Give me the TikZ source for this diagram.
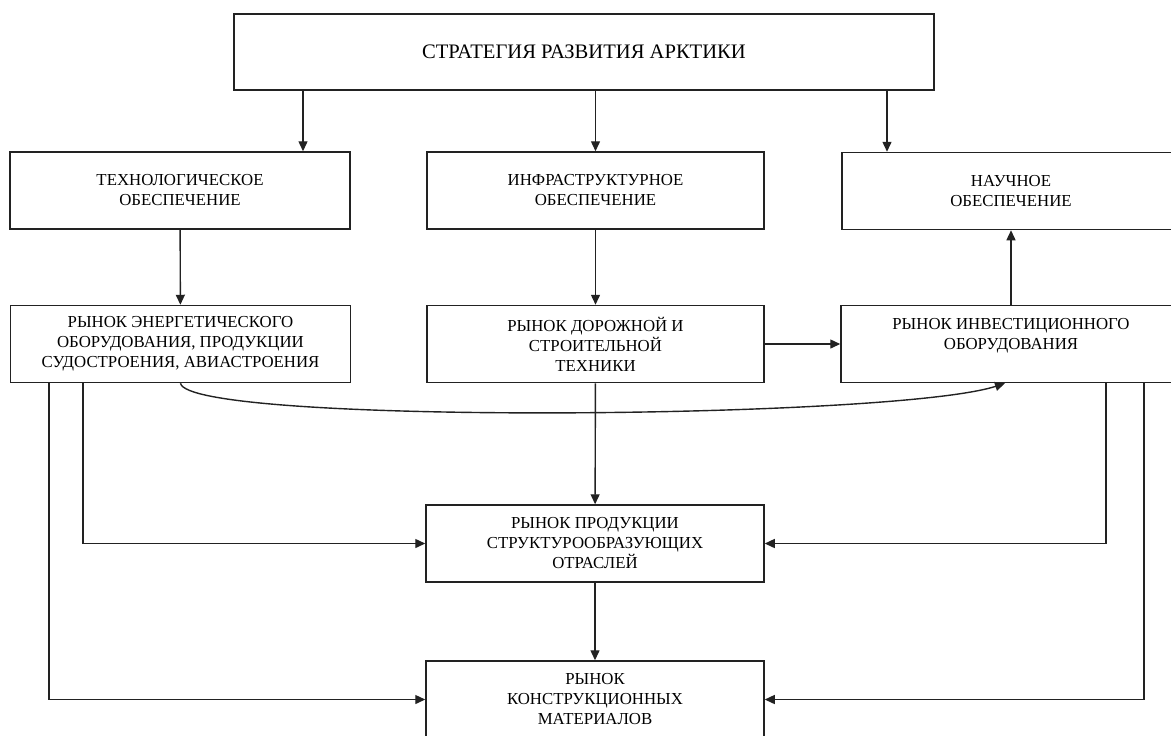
\documentclass[tikz,border=0pt]{standalone}
\usepackage{fontspec}
\setmainfont{Liberation Serif}
\usepackage{tikz}
\usetikzlibrary{arrows.meta,positioning,calc}
\definecolor{bk90}{HTML}{222222}
\tikzset{
  mktbox/.style={
    rectangle, draw=bk90, line width=0.75pt,
    minimum width=#1, minimum height=38.5pt,
    font=\fontsize{8.4}{10}\selectfont, align=center,
    inner sep=2pt
  },
  mktbox/.default=169pt,
  flowarrow/.style={
    -{Triangle[length=5pt,width=4.5pt]}, line width=0.7pt, color=bk90
  },
}

\begin{document}
\begin{tikzpicture}[x=0.5pt, y=-0.5pt]
  \useasboundingbox (0,0) rectangle (1171,735);
  % top level
  \node[mktbox=350pt, minimum height=38pt, font=\fontsize{10.3}{12}\selectfont] (strategy) at (584,52) {СТРАТЕГИЯ РАЗВИТИЯ АРКТИКИ};
  % support boxes
  \node[mktbox=170pt] (techSup) at (180,190.5) {ТЕХНОЛОГИЧЕСКОЕ\\ОБЕСПЕЧЕНИЕ};
  \node[mktbox=168.5pt] (infraSup) at (595.5,190.5) {ИНФРАСТРУКТУРНОЕ\\ОБЕСПЕЧЕНИЕ};
  \node[mktbox=169pt] (sciSup) at (1011,191) {НАУЧНОЕ\\ОБЕСПЕЧЕНИЕ};
  % markets
  \node[mktbox=170pt] (mktEnergy) at (180.5,344) {РЫНОК ЭНЕРГЕТИЧЕСКОГО\\ОБОРУДОВАНИЯ, ПРОДУКЦИИ\\СУДОСТРОЕНИЯ, АВИАСТРОЕНИЯ};
  \node[mktbox=168.5pt] (mktRoad) at (595.5,344) {РЫНОК ДОРОЖНОЙ И\\СТРОИТЕЛЬНОЙ\\ТЕХНИКИ};
  \node[mktbox=170pt] (mktInvest) at (1011,344) {РЫНОК ИНВЕСТИЦИОННОГО\\ОБОРУДОВАНИЯ\\\mbox{}};
  \node[mktbox=169pt] (mktProd) at (595,543.5) {РЫНОК ПРОДУКЦИИ\\СТРУКТУРООБРАЗУЮЩИХ\\ОТРАСЛЕЙ};
  \node[mktbox=169pt] (mktMat) at (595,699.5) {РЫНОК\\КОНСТРУКЦИОННЫХ\\МАТЕРИАЛОВ};
  % line columns
  \coordinate (colA) at (303,0);
  \coordinate (colC) at (887,0);
  \coordinate (in1) at (83,0);
  \coordinate (out1) at (49,0);
  \coordinate (in2) at (1106,0);
  \coordinate (out2) at (1144,0);
  \draw[flowarrow] (strategy.south -| colA) -- (techSup.north -| colA);
  \draw[flowarrow] (strategy.south -| infraSup) -- (infraSup);
  \draw[flowarrow] (strategy.south -| colC) -- (sciSup.north -| colC);
  \draw[flowarrow] (techSup) -- (mktEnergy);
  \draw[flowarrow] (infraSup) -- (mktRoad);
  \draw[flowarrow] (mktRoad) -- (mktInvest);
  \draw[flowarrow] (mktInvest) -- (sciSup);
  \draw[flowarrow] (mktRoad) -- (mktProd);
  \draw[flowarrow] (mktProd) -- (mktMat);
  \draw[flowarrow] (mktEnergy.south -| in1) |- (mktProd.west);
  \draw[flowarrow] (mktEnergy.south -| out1) |- (mktMat.west);
  \draw[flowarrow] (mktInvest.south -| in2) |- (mktProd.east);
  \draw[flowarrow] (mktInvest.south -| out2) |- (mktMat.east);
  \draw[flowarrow] (mktEnergy.south) .. controls +(8,42) and +(-110,36) .. ([xshift=-3pt]mktInvest.south);
\end{tikzpicture}
\end{document}
